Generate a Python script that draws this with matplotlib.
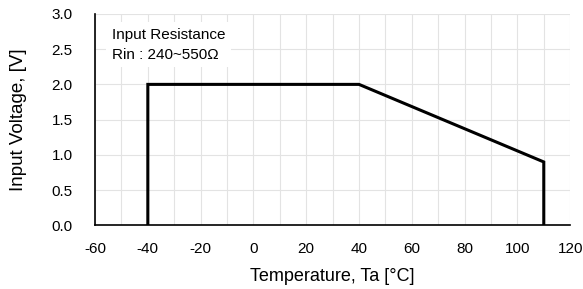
import numpy as np
import matplotlib.pyplot as plt

plt.rcParams['font.family'] = ['Liberation Sans', 'DejaVu Sans']

temp = [-40, -40, 40, 110, 110]
volt = [0.0, 2.0, 2.0, 0.9, 0.0]
xticks = [-60, -40, -20, 0, 20, 40, 60, 80, 100, 120]
yticks = [0.0, 0.5, 1.0, 1.5, 2.0, 2.5, 3.0]

fig = plt.figure(figsize=(5.83, 2.89), dpi=100)
ax = fig.add_axes([0.163, 0.220, 0.815, 0.732])

ax.set_xlim(-60, 120)
ax.set_ylim(0, 3.0)
ax.set_xticks(xticks)
ax.set_xticklabels([str(t) for t in xticks])
ax.set_xticks(np.arange(-50, 120, 20), minor=True)
ax.set_yticks(yticks)
ax.set_yticklabels([f'{t:.1f}' for t in yticks])
ax.grid(True, which='both', color='#e3e3e3', lw=0.8)
ax.set_axisbelow(True)
ax.tick_params(which='both', length=0, labelsize=11)
ax.tick_params(axis='x', pad=12)
ax.tick_params(axis='y', pad=16)

for s in ['top', 'right']:
    ax.spines[s].set_visible(False)
for s in ['left', 'bottom']:
    ax.spines[s].set_color('black')
    ax.spines[s].set_linewidth(1.2)

ax.plot(temp, volt, color='black', lw=2.2, solid_joinstyle='miter', zorder=3)

ax.text(-53.6, 2.56, 'Input Resistance\nRin : 240~550Ω', fontsize=11, va='center', ha='left',
        linespacing=1.55, bbox=dict(facecolor='white', edgecolor='none', pad=4))

ax.set_xlabel('Temperature, Ta [°C]', fontsize=13, labelpad=8.5)
ax.set_ylabel('Input Voltage, [V]', fontsize=13.5, labelpad=18)

fig.savefig('out.png', dpi=100)
